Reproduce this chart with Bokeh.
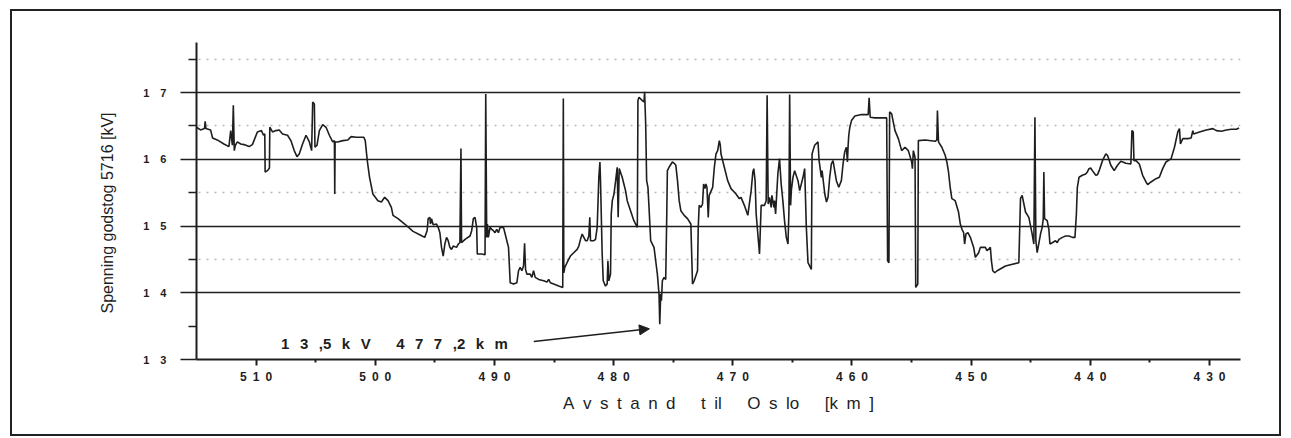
from bokeh.plotting import figure
from bokeh.models import Range1d, FixedTicker, Grid, Arrow, NormalHead, ColumnDataSource
from bokeh.core.properties import value
from bokeh.embed import file_html
from bokeh.resources import INLINE

# ---- data -------------------------------------------------------------
km = [
    515.00, 514.66, 514.33, 514.27, 514.21, 513.82, 513.65, 513.26, 512.70, 512.28,
    512.13, 511.99, 511.91, 511.83, 511.74, 511.57, 511.29, 511.01, 510.59, 510.31,
    509.89, 509.55, 509.38, 509.27, 509.24, 509.04, 508.88, 508.85, 508.62, 508.34,
    508.06, 507.78, 507.36, 507.08, 506.80, 506.57, 506.38, 506.10, 505.81, 505.53,
    505.34, 505.25, 505.11, 505.06, 504.89, 504.69, 504.41, 504.13, 503.85, 503.57,
    503.43, 503.40, 503.37, 503.15, 502.72, 502.30, 502.02, 501.60, 500.96, 500.84,
    500.67, 500.48, 500.20, 499.78, 499.49, 499.21, 498.93, 498.65, 498.51, 498.09,
    497.53,
    496.83, 496.27, 495.85, 495.65, 495.56, 495.42, 495.37, 495.28, 495.14, 494.86,
    494.72, 494.58, 494.44, 494.30, 494.16, 494.02, 493.88, 493.74, 493.60, 493.46,
    493.18, 493.04, 492.90, 492.81, 492.76, 492.47, 492.05, 491.91, 491.77, 491.63,
    491.49, 491.44, 491.07, 490.79, 490.73, 490.65, 490.59, 490.51, 490.37, 490.23,
    490.09, 489.95, 489.81, 489.67, 489.52, 489.24, 489.10, 488.96, 488.82, 488.74,
    488.68, 488.40, 488.12, 487.98, 487.84, 487.70, 487.56, 487.47, 487.39, 487.28,
    487.00, 486.86, 486.72, 486.58, 486.29, 485.87, 485.59, 485.45, 485.31, 485.03,
    484.61, 484.27, 484.22, 484.18, 484.10, 483.91, 483.63, 483.35, 483.06, 482.92,
    482.78, 482.64, 482.50, 482.36, 482.22, 482.08, 482.00, 481.94, 481.66, 481.52,
    481.38, 481.24, 481.15, 481.10, 480.96, 480.87, 480.68, 480.54, 480.48, 480.40,
    480.26, 480.20, 480.11, 479.97, 479.83,
    479.70, 479.62, 479.53, 479.28, 479.14, 479.00, 478.86, 478.58, 478.30, 478.01,
    477.96, 477.87, 477.59, 477.45, 477.40, 477.31, 477.23, 477.12, 477.03, 476.89,
    476.75, 476.61, 476.47, 476.33, 476.19, 476.13, 476.05, 475.99, 475.91, 475.77,
    475.63, 475.54, 475.49, 475.35, 475.07, 474.92, 474.78, 474.64, 474.50, 474.36,
    474.08, 473.80, 473.52, 473.38, 473.24, 472.96, 472.90, 472.82, 472.68, 472.54,
    472.45, 472.34, 472.26, 472.17, 472.12, 472.06, 471.98, 471.69, 471.55, 471.41,
    471.27, 471.13, 471.05, 470.99, 470.71, 470.43, 470.15, 469.73, 469.45, 469.31,
    469.03, 468.74, 468.46, 468.32, 468.24, 468.13, 468.04, 467.90, 467.76, 467.62,
    467.34, 467.20, 467.12, 467.03, 466.92, 466.78, 466.72, 466.55, 466.50, 466.41,
    466.22, 466.08, 465.94, 465.80, 465.66, 465.51, 465.37, 465.29, 465.23, 465.15,
    465.09, 464.95, 464.81, 464.53, 464.39, 464.11, 463.97, 463.83, 463.69, 463.41,
    463.35, 463.27, 463.13, 462.85, 462.76, 462.68, 462.57, 462.51, 462.28, 462.14,
    462.01, 461.87, 461.73, 461.59, 461.45, 461.31, 461.11, 460.89, 460.75, 460.61,
    460.47, 460.38, 460.33, 460.27, 460.18, 460.04, 459.76, 459.20, 458.64, 458.56,
    458.47, 458.08, 457.52, 457.09, 457.01, 456.90, 456.84, 456.67, 456.39, 456.11,
    455.83, 455.55, 455.27, 454.99, 454.93, 454.85, 454.71, 454.65, 454.48, 454.43,
    453.86, 453.02, 452.88, 452.83, 452.74, 452.46, 452.18, 452.04, 451.90, 451.76,
    451.62, 451.34, 451.06, 450.91, 450.77, 450.63, 450.55, 450.44, 450.27, 450.07,
    449.79, 449.65, 449.37, 449.23, 448.81, 448.67, 448.39, 448.30, 448.19, 448.02,
    447.82, 447.12, 446.00, 445.86, 445.72, 445.44, 445.16, 444.88, 444.74, 444.65,
    444.57, 444.46,
    444.18, 444.04, 443.95, 443.90, 443.84, 443.62, 443.48, 443.39, 443.20, 442.92,
    442.78, 442.63, 442.35, 442.07, 441.79, 441.51, 441.29, 441.17, 441.09, 440.95,
    440.67, 440.39, 440.25, 440.11, 439.97, 439.83, 439.54, 439.40, 439.26, 438.98,
    438.70, 438.56, 438.28, 438.00, 437.72, 437.44, 437.02, 436.60, 436.51, 436.40,
    436.34, 436.17, 435.89, 435.61, 435.33, 435.19, 434.91, 434.49, 434.21, 433.93,
    433.65, 433.22, 432.94, 432.66, 432.52, 432.44, 432.24, 431.82, 431.54, 431.40,
    431.34, 430.84, 430.28, 429.71, 429.43, 429.01, 428.59, 428.17, 427.75, 427.52,
]

kv = [
    16.48, 16.44, 16.46, 16.57, 16.46, 16.44, 16.32, 16.29, 16.23, 16.19,
    16.43, 16.21, 16.81, 16.13, 16.21, 16.26, 16.23, 16.22, 16.19, 16.22,
    16.41, 16.43, 16.36, 16.38, 15.81, 15.83, 15.87, 16.48, 16.41, 16.43,
    16.44, 16.38, 16.36, 16.28, 16.13, 16.04, 16.08, 16.23, 16.36, 16.26,
    16.13, 16.86, 16.83, 16.18, 16.21, 16.43, 16.52, 16.48, 16.36, 16.26,
    16.28, 15.48, 16.26, 16.26, 16.28, 16.29, 16.34, 16.33, 16.33, 16.28,
    15.98, 15.73, 15.48, 15.38, 15.36, 15.43, 15.38, 15.28, 15.16, 15.11,
    15.03,
    14.92, 14.87, 14.83, 14.93, 15.11, 15.13, 15.03, 15.11, 15.02, 15.03,
    14.98, 14.90, 14.68, 14.55, 14.73, 14.83, 14.78, 14.68, 14.65, 14.70,
    14.68, 14.73, 14.75, 16.16, 14.75, 14.80, 14.85, 14.93, 15.11, 15.13,
    14.98, 14.58, 14.58, 14.57, 16.98, 14.83, 15.03, 14.83, 14.98, 14.95,
    14.93, 14.90, 14.95, 14.90, 14.98, 14.98, 14.88, 14.78, 14.68, 14.38,
    14.15, 14.13, 14.15, 14.33, 14.38, 14.33, 14.40, 14.74, 14.35, 14.28,
    14.28, 14.23, 14.33, 14.23, 14.20, 14.18, 14.16, 14.20, 14.15, 14.13,
    14.10, 14.08, 16.91, 14.30, 14.38, 14.45, 14.55, 14.60, 14.65, 14.70,
    14.80, 14.88, 14.83, 14.78, 14.78, 14.85, 15.13, 14.78, 14.78, 14.80,
    14.98, 15.73, 15.96, 15.68, 14.58, 14.18, 14.10, 14.13, 14.48, 14.18,
    14.28, 15.18, 15.38, 15.48, 15.68,
    15.88, 15.13, 15.86, 15.73, 15.63, 15.53, 15.38, 15.23, 15.08, 14.98,
    16.88, 16.93, 16.88, 16.86, 17.01, 16.53, 15.68, 15.58, 15.28, 14.78,
    14.73, 14.68, 14.48, 14.28, 13.98, 13.53, 13.98, 13.88, 14.18, 14.23,
    14.20, 15.18, 15.83, 15.88, 15.96, 15.94, 15.91, 15.68, 15.38, 15.23,
    15.16, 15.11, 15.03, 14.13, 14.18, 14.33, 14.98, 15.31, 15.28, 15.33,
    15.63, 15.56, 15.63, 15.58, 15.38, 15.13, 15.46, 15.58, 15.88, 16.08,
    16.13, 16.28, 16.21, 16.08, 15.88, 15.68, 15.56, 15.48, 15.41, 15.43,
    15.31, 15.16, 15.53, 15.81, 15.86, 15.68, 15.18, 14.88, 14.58, 15.31,
    15.31, 15.38, 16.96, 15.33, 15.43, 15.28, 15.46, 15.28, 15.38, 15.18,
    15.78, 16.01, 15.63, 15.38, 15.08, 14.83, 14.73, 15.23, 16.97, 15.31,
    15.53, 15.73, 15.83, 15.68, 15.53, 15.73, 15.86, 14.98, 14.45, 14.35,
    16.08, 16.13, 16.21, 16.26, 15.98, 15.88, 15.73, 15.83, 15.48, 15.36,
    15.43, 15.73, 15.93, 15.98, 15.83, 15.68, 15.58, 15.68, 15.93, 16.11,
    16.18, 15.96, 16.18, 16.36, 16.48, 16.58, 16.65, 16.67, 16.67, 16.92,
    16.63, 16.62, 16.62, 16.62, 14.48, 14.45, 16.71, 16.68, 16.43, 16.31,
    16.13, 16.18, 16.13, 15.96, 15.86, 16.13, 16.03, 14.08, 14.13, 16.28,
    16.29, 16.27, 16.29, 16.73, 16.26, 16.18, 16.06, 15.96, 15.81, 15.58,
    15.41, 15.38, 15.21, 15.03, 14.95, 14.90, 14.73, 14.88, 14.90, 14.83,
    14.68, 14.53, 14.60, 14.68, 14.68, 14.63, 14.68, 14.48, 14.33, 14.30,
    14.33, 14.40, 14.45, 15.41, 15.46, 15.21, 15.13, 14.88, 14.73, 16.63,
    14.78, 14.60,
    14.88, 14.98, 15.11, 15.81, 15.11, 15.08, 14.95, 14.73, 14.75, 14.78,
    14.75, 14.80, 14.83, 14.85, 14.85, 14.83, 14.83, 15.18, 15.58, 15.73,
    15.76, 15.78, 15.81, 15.86, 15.87, 15.83, 15.76, 15.77, 15.83, 15.98,
    16.08, 16.06, 15.91, 15.83, 15.91, 15.97, 15.94, 15.93, 16.43, 16.41,
    15.98, 15.98, 15.93, 15.76, 15.66, 15.62, 15.66, 15.71, 15.73, 15.86,
    15.96, 16.01, 16.18, 16.41, 16.46, 16.23, 16.31, 16.31, 16.32, 16.43,
    16.38, 16.41, 16.44, 16.46, 16.43, 16.42, 16.44, 16.45, 16.45, 16.47,
]

EN = "\u2002"    # en space (plain spaces collapse in SVG text)
EM = "\u2003"    # em space
THIN = "\u2009"  # thin space

x_ticks = [510, 500, 490, 480, 470, 460, 450, 440, 430]
x_tick_labels = [EN.join(str(t)) for t in x_ticks]          # "5 1 0", ...
x_minor = [505, 495, 485, 475, 465, 455, 445, 435]
y_ticks = [13, 14, 15, 16, 17]
y_tick_labels = [EM.join(str(t)) for t in y_ticks]          # "1 3", ...
y_minor = [13.5, 14.5, 15.5, 16.5, 17.5]
y_dotted = [14.5, 15.5, 16.5, 17.5]

GAP = EN + THIN
note_text = (GAP.join(["1", "3", ",5", "k", "V"]) + EM + EN + THIN
             + GAP.join(["4", "7", "7", ",2", "k", "m"]))
note_x, note_y = 507.9, 13.235
arrow_from = (486.7, 13.27)
arrow_to = (477.0, 13.46)

x_label = (EN.join("Avstand") + EM + EN + EN.join(["t", "il"]) + EM + EN
           + EN.join(["O", "s", "lo"]) + EM + EN + EN.join(["[k", "m", "]"]))
# trailing em/en space shifts the centred vertical title slightly downwards
y_label = "Spenning godstog 5716 [kV]" + EM + EN

INK = "#1e1e1e"
FONT = "Liberation Sans"

# ---- figure -----------------------------------------------------------
p = figure(width=1267, height=423,
           x_range=Range1d(515, 427.4), y_range=Range1d(13, 17.75),
           output_backend="svg", toolbar_location=None,
           min_border_left=184, min_border_right=43,
           min_border_top=31, min_border_bottom=79,
           styles={"border": "2px solid #222", "margin-left": "10px",
                   "margin-top": "9px", "box-sizing": "content-box"})
p.outline_line_color = None
p.background_fill_color = "white"
p.border_fill_color = "white"
p.xgrid.visible = False

# axes
xa = p.xaxis[0]
xa.ticker = FixedTicker(ticks=x_ticks, minor_ticks=x_minor)
xa.major_label_overrides = {t: l for t, l in zip(x_ticks, x_tick_labels)}
xa.axis_line_width = 2
xa.axis_line_color = INK
xa.major_tick_line_color = INK
xa.major_tick_line_width = 2
xa.major_tick_out = 6
xa.major_tick_in = 0
xa.minor_tick_line_color = INK
xa.minor_tick_line_width = 2
xa.minor_tick_out = 3
xa.minor_tick_in = 0
xa.major_label_text_font = FONT
xa.major_label_text_font_size = "12px"
xa.major_label_text_font_style = "bold"
xa.major_label_text_color = INK
xa.major_label_standoff = 4
xa.axis_label = x_label
xa.axis_label_text_font = FONT
xa.axis_label_text_font_size = "17px"
xa.axis_label_text_font_style = "normal"
xa.axis_label_text_color = INK
xa.axis_label_standoff = 7

ya = p.yaxis[0]
ya.ticker = FixedTicker(ticks=y_ticks, minor_ticks=y_minor)
ya.major_label_overrides = {t: l for t, l in zip(y_ticks, y_tick_labels)}
ya.axis_line_width = 2
ya.axis_line_color = INK
ya.major_tick_line_color = INK
ya.major_tick_line_width = 1.5
ya.major_tick_out = 16
ya.major_tick_in = 0
ya.minor_tick_line_color = INK
ya.minor_tick_line_width = 1.5
ya.minor_tick_out = 8
ya.minor_tick_in = 0
ya.major_label_text_font = FONT
ya.major_label_text_font_size = "11px"
ya.major_label_text_font_style = "bold"
ya.major_label_text_color = INK
ya.major_label_standoff = 14
ya.axis_label = y_label
ya.axis_label_text_font = FONT
ya.axis_label_text_font_size = "16px"
ya.axis_label_text_font_style = "normal"
ya.axis_label_text_color = INK
ya.axis_label_standoff = 24

# grids
p.ygrid.ticker = FixedTicker(ticks=y_ticks)
p.ygrid.grid_line_color = INK
p.ygrid.grid_line_width = 1.5
dotted = Grid(dimension=1, ticker=FixedTicker(ticks=y_dotted),
              grid_line_color="#b8b8b8", grid_line_width=1.5,
              grid_line_dash="2 6")
p.add_layout(dotted)

# data line
src = ColumnDataSource(data=dict(km=km, kv=kv))
p.line("km", "kv", source=src, line_color=INK, line_width=1.6)

# annotation
p.text(x=[note_x], y=[note_y], text=[note_text],
       text_font=value(FONT), text_font_size="15px", text_font_style="bold",
       text_color=INK, text_align="left", text_baseline="middle")
p.add_layout(Arrow(end=NormalHead(size=10, fill_color=INK, line_color=INK),
                   x_start=arrow_from[0], y_start=arrow_from[1],
                   x_end=arrow_to[0], y_end=arrow_to[1],
                   line_color=INK, line_width=1.5))

open("out.html", "w").write(file_html(p, INLINE))
